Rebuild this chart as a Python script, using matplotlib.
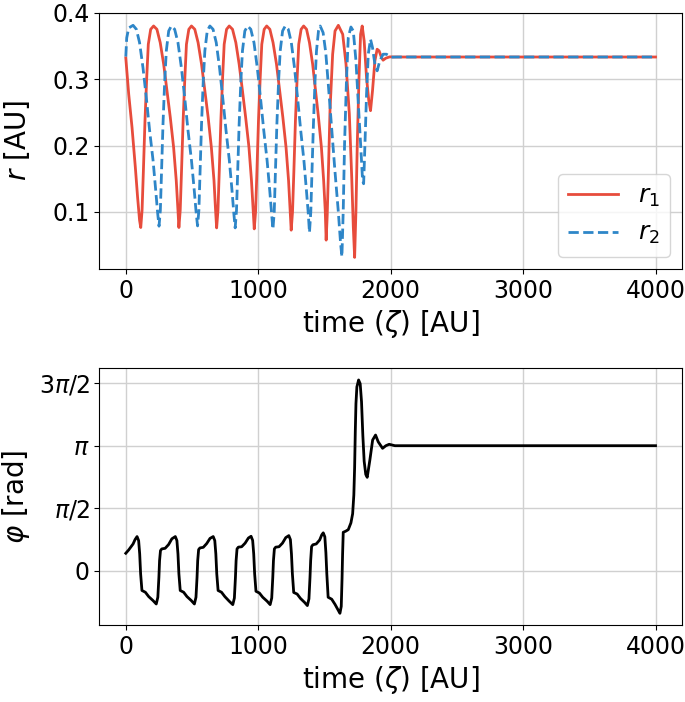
import numpy as np
import matplotlib
matplotlib.use("Agg")
import matplotlib.pyplot as plt

# ---- data ----
t_r1 = [0, 22, 47, 72, 89, 104, 113,
        123, 133, 145, 158, 170, 188, 210,
        235, 260, 286, 311, 336, 361, 381, 394, 401,
        411, 421, 433, 446, 458, 476, 496,
        521, 546, 572, 597, 622, 646, 666, 678, 686,
        696, 706, 718, 731, 743, 761, 781,
        806, 831, 856, 881, 905, 930, 949, 962, 970,
        980, 990, 1002, 1015, 1027, 1045, 1064,
        1088, 1112, 1138, 1162, 1186, 1210, 1229, 1241, 1249,
        1259, 1269, 1281, 1294, 1306, 1324, 1343,
        1365, 1387, 1411, 1433, 1455, 1477, 1494, 1506, 1513,
        1521, 1529, 1542, 1562, 1580, 1605,
        1638, 1663, 1688, 1706, 1718, 1728,
        1738, 1748, 1761, 1773, 1785,
        1800, 1818, 1835, 1848, 1863, 1881, 1898, 1913, 1931, 1943, 1963, 1993,
        2050, 4000]
r1 = [0.332, 0.2775, 0.2275, 0.1675, 0.1225, 0.0875, 0.0766,
      0.1025, 0.1625, 0.2375, 0.302, 0.3525, 0.375, 0.38,
      0.375, 0.355, 0.3225, 0.2825, 0.2425, 0.1975, 0.1475, 0.1025, 0.0766,
      0.1025, 0.1625, 0.2375, 0.302, 0.3525, 0.375, 0.38,
      0.375, 0.355, 0.3225, 0.2825, 0.2425, 0.1975, 0.1475, 0.1025, 0.076,
      0.1025, 0.1625, 0.2375, 0.302, 0.3525, 0.375, 0.38,
      0.375, 0.355, 0.3225, 0.2825, 0.2425, 0.1975, 0.1475, 0.1025, 0.0745,
      0.100, 0.160, 0.2375, 0.302, 0.3525, 0.375, 0.38,
      0.375, 0.355, 0.3225, 0.2825, 0.2425, 0.1975, 0.1475, 0.1025, 0.0726,
      0.100, 0.160, 0.2375, 0.302, 0.3525, 0.375, 0.38,
      0.375, 0.355, 0.3225, 0.2825, 0.2425, 0.1975, 0.1475, 0.1025, 0.0576,
      0.095, 0.1525, 0.2525, 0.3375, 0.3725, 0.381,
      0.3675, 0.3225, 0.2475, 0.1525, 0.0775, 0.0316,
      0.1025, 0.2025, 0.302, 0.3675, 0.38,
      0.3575, 0.302, 0.2675, 0.2525, 0.2825, 0.3275, 0.345, 0.3425, 0.3325, 0.3285, 0.3315, 0.3335,
      0.3333, 0.3333]

t_r2 = [0, 7, 22, 55,
        80, 104, 130, 155, 180, 206, 226, 241, 251,
        261, 271, 281, 294, 306, 324, 344,
        369, 394, 420, 445, 470, 496, 517, 532, 542,
        552, 562, 572, 585, 597, 615, 635,
        659, 683, 708, 732, 757, 782, 802, 816, 826,
        836, 846, 856, 869, 881, 899, 920,
        944, 968, 993, 1017, 1042, 1067, 1087, 1101, 1111,
        1121, 1131, 1141, 1154, 1166, 1184, 1204,
        1227, 1250, 1274, 1297, 1321, 1345, 1364, 1378, 1387,
        1397, 1407, 1417, 1429, 1440, 1455, 1468,
        1490, 1510, 1530, 1554, 1579, 1604, 1622, 1632,
        1642, 1652, 1667, 1680, 1700,
        1718, 1738, 1756, 1773, 1788, 1796,
        1806, 1818, 1831, 1848, 1863, 1881, 1898, 1918, 1943, 1968, 2006,
        2050, 4000]
r2 = [0.334, 0.362, 0.377, 0.381,
      0.375, 0.355, 0.317, 0.272, 0.2225, 0.1775, 0.1325, 0.0975, 0.0786,
      0.1025, 0.1675, 0.2325, 0.2975, 0.3425, 0.3725, 0.38,
      0.375, 0.355, 0.317, 0.272, 0.2225, 0.1775, 0.1325, 0.0975, 0.079,
      0.1025, 0.1675, 0.2325, 0.2975, 0.3425, 0.3725, 0.38,
      0.375, 0.355, 0.317, 0.272, 0.2225, 0.1775, 0.1325, 0.0975, 0.076,
      0.1025, 0.1675, 0.2325, 0.2975, 0.3425, 0.3725, 0.38,
      0.375, 0.355, 0.317, 0.272, 0.2225, 0.1775, 0.1325, 0.0975, 0.074,
      0.100, 0.1675, 0.2325, 0.2975, 0.3425, 0.3725, 0.38,
      0.375, 0.355, 0.317, 0.272, 0.2225, 0.1775, 0.1325, 0.0975, 0.069,
      0.100, 0.1675, 0.2325, 0.2975, 0.3425, 0.3725, 0.38,
      0.370, 0.340, 0.290, 0.2275, 0.1625, 0.1025, 0.0525, 0.0325,
      0.1025, 0.2025, 0.302, 0.3625, 0.3785,
      0.3725, 0.3275, 0.2625, 0.2025, 0.1475, 0.1425,
      0.2025, 0.2775, 0.3375, 0.360, 0.3475, 0.3225, 0.3125, 0.3275, 0.3375, 0.3375, 0.333,
      0.3333, 0.3333]

t_phi = [0, 22, 55, 70, 85,
         97, 105, 112, 122, 148, 173, 206, 230, 242, 250, 255, 262, 272, 297, 323, 348,
         374, 386, 394, 401, 411, 437, 462, 495, 518, 530, 538, 543, 550, 560, 585, 611, 636,
         660, 672, 680, 687, 697, 723, 748, 781, 808, 820, 828, 833, 840, 850, 875, 901, 926,
         946, 958, 966, 973, 983, 1009, 1034, 1067, 1090, 1102, 1110, 1115, 1122, 1132, 1157, 1183, 1208,
         1231, 1243, 1251, 1258, 1268, 1294, 1319, 1350, 1371, 1383, 1391, 1396, 1403, 1413, 1438, 1464, 1480,
         1491, 1503, 1511, 1518, 1528, 1555, 1580, 1603, 1617, 1627, 1633, 1637, 1642, 1660, 1680, 1700, 1713,
         1722, 1728, 1733, 1738, 1745, 1758, 1770, 1780, 1790, 1800, 1812, 1823,
         1843, 1864, 1886, 1906, 1939, 1964, 1989, 2032, 4000]
phi = [0.436, 0.52, 0.67, 0.78, 0.856,
       0.755, 0.42, -0.08, -0.50, -0.545, -0.654, -0.755, -0.84, -0.67, -0.17, 0.25, 0.503, 0.546, 0.56, 0.654, 0.80,
       0.856, 0.755, 0.42, -0.08, -0.50, -0.545, -0.654, -0.755, -0.84, -0.67, -0.17, 0.25, 0.528, 0.57, 0.585, 0.68, 0.81,
       0.856, 0.755, 0.42, -0.08, -0.50, -0.545, -0.654, -0.77, -0.856, -0.69, -0.17, 0.25, 0.546, 0.59, 0.60, 0.69, 0.82,
       0.863, 0.76, 0.42, -0.08, -0.52, -0.565, -0.67, -0.77, -0.856, -0.69, -0.17, 0.25, 0.546, 0.59, 0.60, 0.69, 0.83,
       0.88, 0.78, 0.42, -0.08, -0.55, -0.59, -0.70, -0.80, -0.88, -0.71, -0.17, 0.25, 0.604, 0.65, 0.67, 0.77, 0.90,
       0.95, 0.85, 0.45, -0.08, -0.67, -0.72, -0.85, -0.99, -1.075, -0.90, -0.20, 0.40, 0.964, 0.99, 1.03, 1.20, 1.43,
       1.90, 2.60, 3.50, 4.20, 4.62, 4.795, 4.70, 4.25, 3.40, 2.75, 2.42, 2.346,
       2.78, 3.285, 3.41, 3.24, 3.076, 3.1416, 3.177, 3.1416, 3.1416]

xticks = [0, 1000, 2000, 3000, 4000]
r_ticks = [0.1, 0.2, 0.3, 0.4]
phi_ticks = [0, np.pi / 2, np.pi, 3 * np.pi / 2]
phi_ticklabels = ["0", r"$\pi/2$", r"$\pi$", r"$3\pi/2$"]

red = "#e74c3c"
blue = "#2e86c8"

W, H = 685, 702
fig = plt.figure(figsize=(W / 100, H / 100), dpi=100)

ax1 = fig.add_axes([99.3 / W, 1 - 269 / H, (682 - 99.3) / W, (269 - 12.7) / H])
ax2 = fig.add_axes([99.3 / W, 1 - 625 / H, (682 - 99.3) / W, (625 - 368.3) / H])

ax1.plot(t_r1, r1, color=red, lw=2, label=r"$r_1$")
ax1.plot(t_r2, r2, color=blue, lw=2, ls="--", label=r"$r_2$")
ax1.set_xticks(xticks)
ax1.set_yticks(r_ticks)
ax1.set_ylabel(r"$r$ [AU]", fontsize=20)
ax1.set_xlabel(r"time ($\zeta$) [AU]", fontsize=20)
ax1.legend(loc="lower right", fontsize=18)

ax2.plot(t_phi, phi, color="black", lw=2)
ax2.set_xticks(xticks)
ax2.set_yticks(phi_ticks)
ax2.set_yticklabels(phi_ticklabels)
ax2.set_ylabel(r"$\varphi$ [rad]", fontsize=20)
ax2.set_xlabel(r"time ($\zeta$) [AU]", fontsize=20)

for ax in (ax1, ax2):
    ax.grid(True, color="#d0d0d0", lw=1)
    ax.set_axisbelow(True)
    ax.tick_params(labelsize=17)
    ax.yaxis.set_label_coords(-0.116, 0.5)

fig.savefig("out.png", dpi=100)
